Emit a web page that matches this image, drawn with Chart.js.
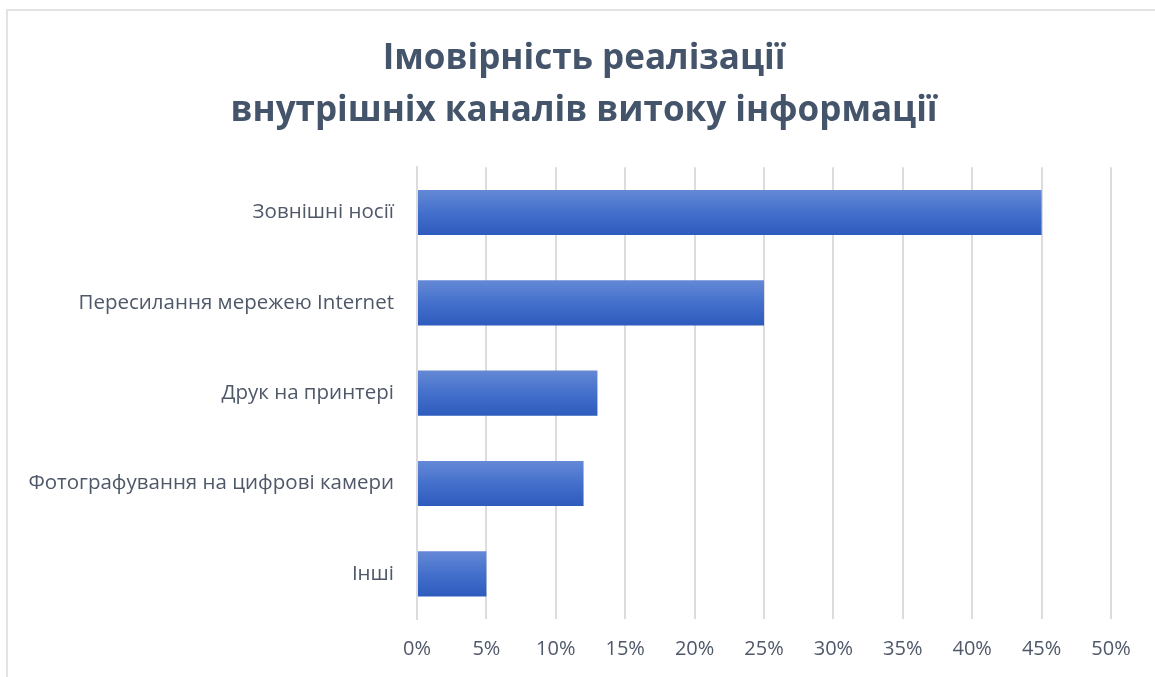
<!DOCTYPE html>
<html>
<head>
<meta charset="utf-8">
<script src="https://cdn.jsdelivr.net/npm/chart.js@4.4.1/dist/chart.umd.min.js"></script>
<style>
    html, body { margin: 0; padding: 0; background: #fff; overflow: hidden; width: 1155px; height: 677px; }
    #wrap {
        position: absolute; left: 6px; top: 9px;
        width: 1154px; height: 668px;
        border-left: 2px solid #e3e3e6; border-top: 2px solid #e3e3e6;
        box-sizing: border-box;
    }
</style>
</head>
<body>
<div id="wrap"><canvas id="grafico"></canvas></div>
<script>
const categorias = [
    'Зовнішні носії',
    'Пересилання мережею Internet',
    'Друк на принтері',
    'Фотографування на цифрові камери',
    'Інші'
];
const valores = [45, 25, 13, 12, 5]; // відсотки
const titulo = ['Імовірність реалізації', 'внутрішніх каналів витоку інформації'];

const colorTexto = '#4f5869';
const colorTitulo = '#44546a';

function gradienteBarra(context) {
    const chart = context.chart;
    const y = chart.scales && chart.scales.y;
    if (!y || context.dataIndex === undefined) return '#3d67c8';
    const centro = y.getPixelForValue(context.dataIndex);
    if (!isFinite(centro)) return '#3d67c8';
    const mitad = 23;
    const g = chart.ctx.createLinearGradient(0, centro - mitad, 0, centro + mitad);
    g.addColorStop(0, '#6589d6');
    g.addColorStop(0.5, '#4470cc');
    g.addColorStop(1, '#2d5bbd');
    return g;
}

Chart.defaults.font.family = '"Open Sans", "Noto Sans", sans-serif';

new Chart(document.getElementById('grafico'), {
    type: 'bar',
    data: {
        labels: categorias,
        datasets: [{
            data: valores,
            backgroundColor: gradienteBarra,
            borderWidth: 0,
            categoryPercentage: 1,
            barPercentage: 0.5
        }]
    },
    options: {
        indexAxis: 'y',
        responsive: true,
        maintainAspectRatio: false,
        animation: false,
        layout: { padding: 0 },
        plugins: {
            legend: { display: false },
            tooltip: { enabled: false },
            title: {
                display: true,
                text: titulo,
                color: colorTitulo,
                font: { size: 35, weight: 'bold', lineHeight: 1.49 },
                padding: { top: 22, bottom: 30 }
            }
        },
        scales: {
            x: {
                min: 0,
                max: 50,
                ticks: {
                    stepSize: 5,
                    color: colorTexto,
                    font: { size: 20 },
                    padding: 18,
                    callback: v => v + '%'
                },
                grid: { color: '#dcdcdf', lineWidth: 2, drawTicks: false },
                border: { display: false },
                afterFit: s => { s.height = 58; }
            },
            y: {
                ticks: {
                    color: colorTexto,
                    font: { size: 20.5 },
                    padding: 23
                },
                grid: { display: false, drawTicks: false },
                border: { color: '#dcdcdf', width: 2 },
                afterFit: s => { s.width = 409; }
            },
            // порожня вісь праворуч, щоб залишити місце як в оригіналі
            yDerecha: {
                axis: 'y',
                type: 'category',
                position: 'right',
                labels: categorias,
                ticks: { display: false },
                grid: { display: false, drawTicks: false },
                border: { display: false },
                afterFit: s => { s.width = 49; }
            }
        }
    }
});
</script>
</body>
</html>
